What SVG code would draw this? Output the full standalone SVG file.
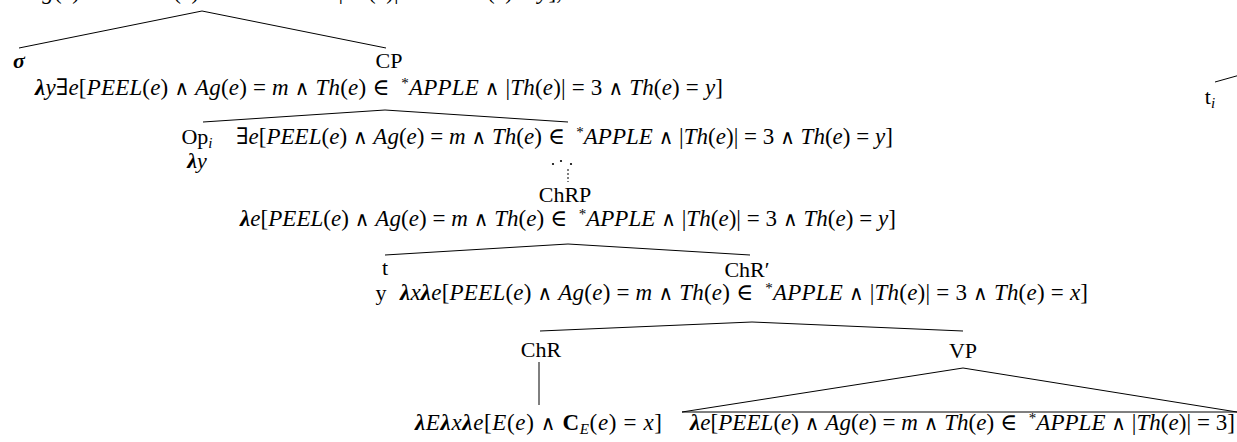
<svg xmlns="http://www.w3.org/2000/svg" width="1237" height="442" viewBox="0 0 1237 442">
<style>
.lbl{font-family:"Liberation Serif",serif;font-size:22px;text-anchor:middle;fill:#000}
.f{font-family:"Liberation Serif","DejaVu Serif",serif;font-size:23px;fill:#000}
.i{font-style:italic}
.lam{font-style:italic;font-weight:bold}
.op{font-family:"DejaVu Serif",serif;font-size:20px}
.edge{stroke:#000;stroke-width:1;fill:none}
</style>
<rect width="1237" height="442" fill="#fff"/>
<g id="top-fragment">
<text class="f" x="-132" y="-1" textLength="694" lengthAdjust="spacing"><tspan class="lam">λ</tspan><tspan class="i">y</tspan>∃<tspan class="i">e</tspan>[<tspan class="i">PEEL</tspan>(<tspan class="i">e</tspan>) <tspan class="op">∧</tspan> <tspan class="i">Ag</tspan>(<tspan class="i">e</tspan>) = <tspan class="i">m</tspan> <tspan class="op">∧</tspan> <tspan class="i">Th</tspan>(<tspan class="i">e</tspan>) ∈&#160; <tspan dy="-7" font-size="15">*</tspan><tspan class="i" dy="7">APPLE</tspan> <tspan class="op">∧</tspan> |<tspan class="i">Th</tspan>(<tspan class="i">e</tspan>)| = 3 <tspan class="op">∧</tspan> <tspan class="i">Th</tspan>(<tspan class="i">e</tspan>) = <tspan class="i">y</tspan>],</text>
</g>
<g id="connectors">
<path class="edge" d="M19,48 L202,11 L386,48"/>
<path class="edge" d="M203,122 L385,110 L568,122"/>
<g fill="#000"><circle cx="553" cy="164" r="1.1"/><circle cx="561" cy="161" r="1.1"/><circle cx="571" cy="164" r="1.1"/></g>
<path class="edge" d="M568,169 V182" stroke-dasharray="2,2"/>
<path class="edge" d="M385,255 L568,244 L750,255"/>
<path class="edge" d="M540,331 L752,322 L963,331"/>
<path class="edge" d="M539,362 V405"/>
<path class="edge" d="M682,412 L963,368 L1237,412 Z"/>
<path class="edge" d="M1215,82 L1240,75"/>
</g>
<g id="n-sigma"><text class="lbl" x="19" y="68"><tspan class="lam">σ</tspan></text></g>
<g id="n-CP">
<text class="lbl" x="389" y="68">CP</text>
<text class="f" x="35" y="95" textLength="688" lengthAdjust="spacing"><tspan class="lam">λ</tspan><tspan class="i">y</tspan>∃<tspan class="i">e</tspan>[<tspan class="i">PEEL</tspan>(<tspan class="i">e</tspan>) <tspan class="op">∧</tspan> <tspan class="i">Ag</tspan>(<tspan class="i">e</tspan>) = <tspan class="i">m</tspan> <tspan class="op">∧</tspan> <tspan class="i">Th</tspan>(<tspan class="i">e</tspan>) ∈&#160; <tspan dy="-7" font-size="15">*</tspan><tspan class="i" dy="7">APPLE</tspan> <tspan class="op">∧</tspan> |<tspan class="i">Th</tspan>(<tspan class="i">e</tspan>)| = 3 <tspan class="op">∧</tspan> <tspan class="i">Th</tspan>(<tspan class="i">e</tspan>) = <tspan class="i">y</tspan>]</text>
</g>
<g id="n-Op">
<text class="lbl" x="197" y="144">Op<tspan class="i" font-size="15" dy="4">i</tspan></text>
<text class="lbl" x="197" y="168"><tspan class="lam">λ</tspan><tspan class="i">y</tspan></text>
</g>
<g id="n-exists">
<text class="f" x="236" y="144" textLength="657" lengthAdjust="spacing">∃<tspan class="i">e</tspan>[<tspan class="i">PEEL</tspan>(<tspan class="i">e</tspan>) <tspan class="op">∧</tspan> <tspan class="i">Ag</tspan>(<tspan class="i">e</tspan>) = <tspan class="i">m</tspan> <tspan class="op">∧</tspan> <tspan class="i">Th</tspan>(<tspan class="i">e</tspan>) ∈&#160; <tspan dy="-7" font-size="15">*</tspan><tspan class="i" dy="7">APPLE</tspan> <tspan class="op">∧</tspan> |<tspan class="i">Th</tspan>(<tspan class="i">e</tspan>)| = 3 <tspan class="op">∧</tspan> <tspan class="i">Th</tspan>(<tspan class="i">e</tspan>) = <tspan class="i">y</tspan>]</text>
</g>
<g id="n-ChRP">
<text class="lbl" x="565" y="202">ChRP</text>
<text class="f" x="240" y="226" textLength="656" lengthAdjust="spacing"><tspan class="lam">λ</tspan><tspan class="i">e</tspan>[<tspan class="i">PEEL</tspan>(<tspan class="i">e</tspan>) <tspan class="op">∧</tspan> <tspan class="i">Ag</tspan>(<tspan class="i">e</tspan>) = <tspan class="i">m</tspan> <tspan class="op">∧</tspan> <tspan class="i">Th</tspan>(<tspan class="i">e</tspan>) ∈&#160; <tspan dy="-7" font-size="15">*</tspan><tspan class="i" dy="7">APPLE</tspan> <tspan class="op">∧</tspan> |<tspan class="i">Th</tspan>(<tspan class="i">e</tspan>)| = 3 <tspan class="op">∧</tspan> <tspan class="i">Th</tspan>(<tspan class="i">e</tspan>) = <tspan class="i">y</tspan>]</text>
</g>
<g id="n-t">
<text class="lbl" x="385" y="275">t</text>
<text class="lbl" x="381" y="300">y</text>
</g>
<g id="n-ChRbar">
<text class="lbl" x="747" y="277">ChR′</text>
<text class="f" x="400" y="300" textLength="688" lengthAdjust="spacing"><tspan class="lam">λ</tspan><tspan class="i">x</tspan><tspan class="lam">λ</tspan><tspan class="i">e</tspan>[<tspan class="i">PEEL</tspan>(<tspan class="i">e</tspan>) <tspan class="op">∧</tspan> <tspan class="i">Ag</tspan>(<tspan class="i">e</tspan>) = <tspan class="i">m</tspan> <tspan class="op">∧</tspan> <tspan class="i">Th</tspan>(<tspan class="i">e</tspan>) ∈&#160; <tspan dy="-7" font-size="15">*</tspan><tspan class="i" dy="7">APPLE</tspan> <tspan class="op">∧</tspan> |<tspan class="i">Th</tspan>(<tspan class="i">e</tspan>)| = 3 <tspan class="op">∧</tspan> <tspan class="i">Th</tspan>(<tspan class="i">e</tspan>) = <tspan class="i">x</tspan>]</text>
</g>
<g id="n-ChR">
<text class="lbl" x="541" y="357">ChR</text>
<text class="f" x="415" y="430" textLength="247" lengthAdjust="spacing"><tspan class="lam">λ</tspan><tspan class="i">E</tspan><tspan class="lam">λ</tspan><tspan class="i">x</tspan><tspan class="lam">λ</tspan><tspan class="i">e</tspan>[<tspan class="i">E</tspan>(<tspan class="i">e</tspan>) <tspan class="op">∧</tspan> <tspan font-weight="bold">C</tspan><tspan class="i" font-size="15" dy="4">E</tspan><tspan dy="-4">(</tspan><tspan class="i">e</tspan>) = <tspan class="i">x</tspan>]</text>
</g>
<g id="n-VP">
<text class="lbl" x="963" y="358">VP</text>
<text class="f" x="690" y="430" textLength="545" lengthAdjust="spacing"><tspan class="lam">λ</tspan><tspan class="i">e</tspan>[<tspan class="i">PEEL</tspan>(<tspan class="i">e</tspan>) <tspan class="op">∧</tspan> <tspan class="i">Ag</tspan>(<tspan class="i">e</tspan>) = <tspan class="i">m</tspan> <tspan class="op">∧</tspan> <tspan class="i">Th</tspan>(<tspan class="i">e</tspan>) ∈&#160; <tspan dy="-7" font-size="15">*</tspan><tspan class="i" dy="7">APPLE</tspan> <tspan class="op">∧</tspan> |<tspan class="i">Th</tspan>(<tspan class="i">e</tspan>)| = 3]</text>
</g>
<g id="n-ti">
<text class="lbl" x="1210" y="104">t<tspan class="i" font-size="15" dy="4">i</tspan></text>
</g>
</svg>
